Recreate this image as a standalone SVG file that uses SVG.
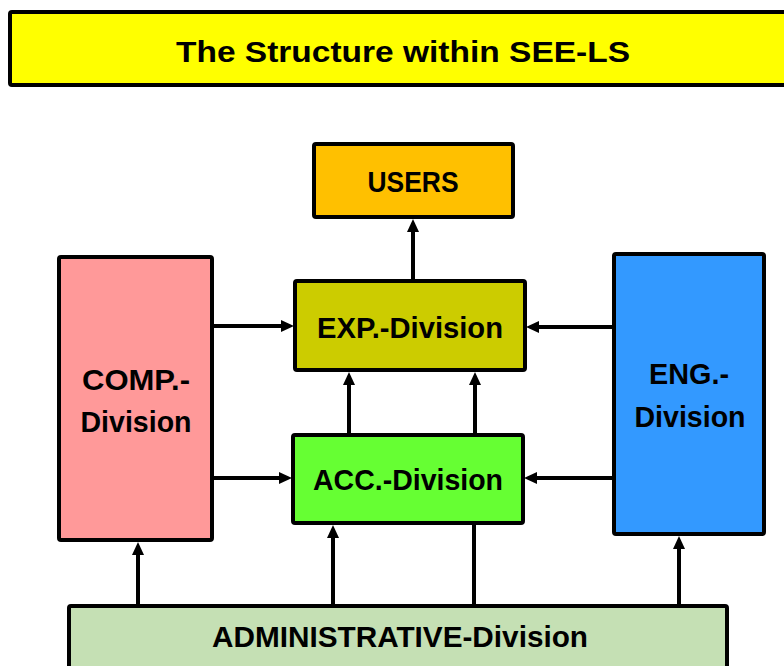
<svg xmlns="http://www.w3.org/2000/svg" width="784" height="666" viewBox="0 0 784 666">
<style>
.box{stroke:#000;stroke-width:4;stroke-linejoin:round}
.t{font-family:"Liberation Sans",Arial,sans-serif;font-weight:bold;font-size:30px;fill:#000;text-anchor:middle}
.c{stroke:#000;stroke-width:4;fill:none}
</style>
<defs>
<marker id="ah" markerUnits="userSpaceOnUse" markerWidth="14" markerHeight="14" refX="0" refY="7" orient="auto" viewBox="0 0 14 14">
<path d="M0,1 L13,7 L0,13 z" fill="#000"/>
</marker>
</defs>
<rect width="784" height="666" fill="#fff"/>
<g id="title">
<rect class="box" x="10" y="12" width="790" height="73" rx="2" fill="#FFFF00"/>
<text class="t" x="403" y="62" font-size="36" textLength="454" lengthAdjust="spacingAndGlyphs">The Structure within SEE-LS</text>
</g>
<g id="connectors">
<line class="c" x1="413" y1="279" x2="413" y2="232" marker-end="url(#ah)"/>
<line class="c" x1="214" y1="326" x2="281" y2="326" marker-end="url(#ah)"/>
<line class="c" x1="214" y1="478" x2="279" y2="478" marker-end="url(#ah)"/>
<line class="c" x1="612" y1="327" x2="539" y2="327" marker-end="url(#ah)"/>
<line class="c" x1="612" y1="478" x2="537" y2="478" marker-end="url(#ah)"/>
<line class="c" x1="349" y1="433" x2="349" y2="385" marker-end="url(#ah)"/>
<line class="c" x1="475" y1="433" x2="475" y2="385" marker-end="url(#ah)"/>
<line class="c" x1="138" y1="604" x2="138" y2="555" marker-end="url(#ah)"/>
<line class="c" x1="333" y1="604" x2="333" y2="538" marker-end="url(#ah)"/>
<line class="c" x1="474" y1="604" x2="474" y2="525"/>
<line class="c" x1="679" y1="604" x2="679" y2="549" marker-end="url(#ah)"/>
</g>
<g id="users">
<rect class="box" x="314" y="144" width="199" height="73" rx="2" fill="#FFC000"/>
<text class="t" x="413" y="192" textLength="91" lengthAdjust="spacingAndGlyphs">USERS</text>
</g>
<g id="exp">
<rect class="box" x="295" y="281" width="230" height="89" rx="2" fill="#CCCC00"/>
<text class="t" x="410" y="338" textLength="186" lengthAdjust="spacingAndGlyphs">EXP.-Division</text>
</g>
<g id="acc">
<rect class="box" x="293" y="435" width="230" height="88" rx="2" fill="#66FF33"/>
<text class="t" x="408" y="490" textLength="190" lengthAdjust="spacingAndGlyphs">ACC.-Division</text>
</g>
<g id="comp">
<rect class="box" x="59" y="257" width="153" height="283" rx="2" fill="#FF9999"/>
<text class="t" x="136" y="390" textLength="108" lengthAdjust="spacingAndGlyphs">COMP.-</text>
<text class="t" x="136" y="432" textLength="111" lengthAdjust="spacingAndGlyphs">Division</text>
</g>
<g id="eng">
<rect class="box" x="614" y="254" width="150" height="280" rx="2" fill="#3399FF"/>
<text class="t" x="689" y="384" textLength="80" lengthAdjust="spacingAndGlyphs">ENG.-</text>
<text class="t" x="690" y="427" textLength="111" lengthAdjust="spacingAndGlyphs">Division</text>
</g>
<g id="admin">
<rect class="box" x="69" y="606" width="658" height="70" rx="2" fill="#C5E0B4"/>
<text class="t" x="400" y="647" textLength="376" lengthAdjust="spacingAndGlyphs">ADMINISTRATIVE-Division</text>
</g>
</svg>
